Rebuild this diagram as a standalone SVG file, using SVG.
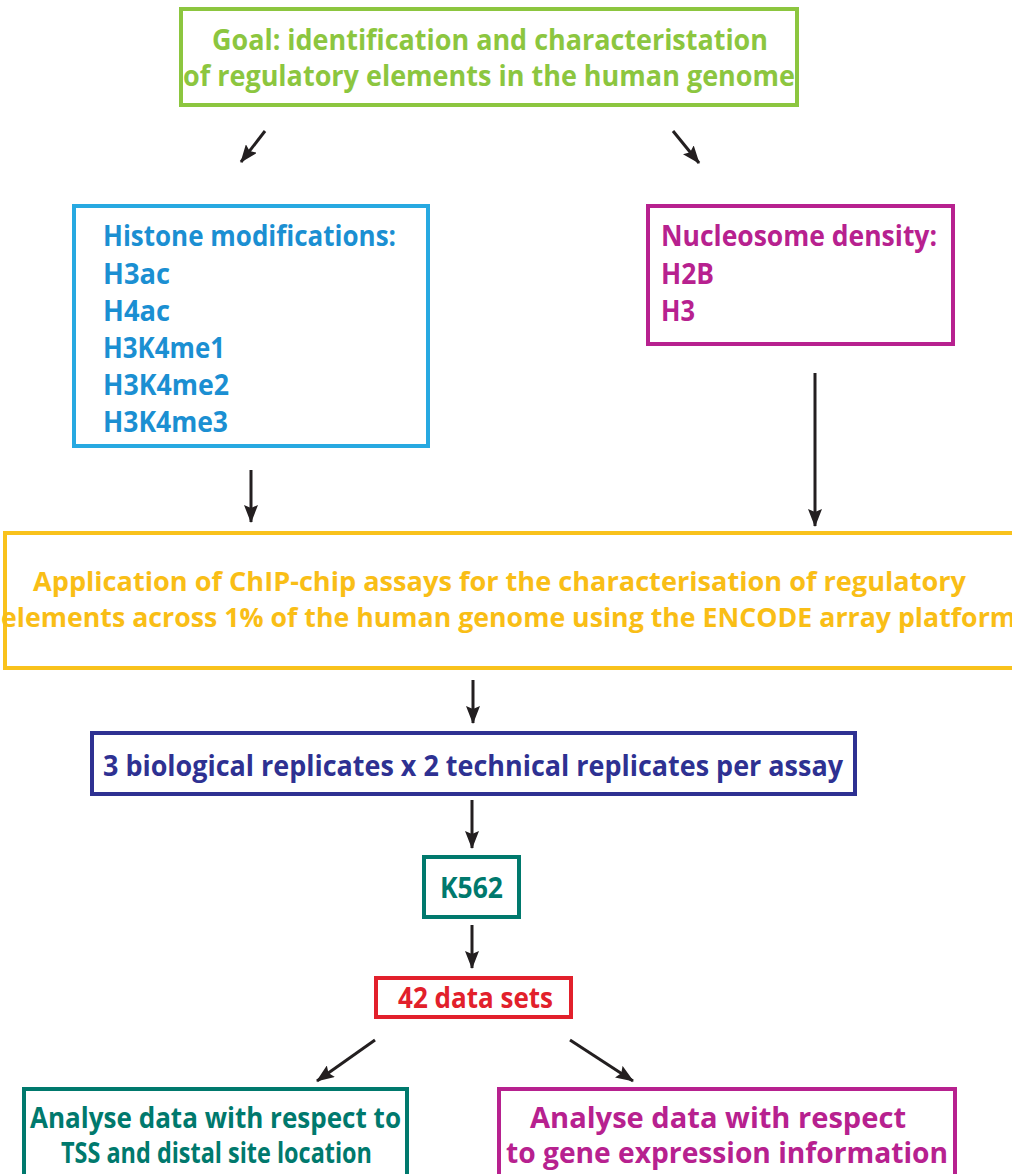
<svg xmlns="http://www.w3.org/2000/svg" width="1012" height="1174" viewBox="0 0 1012 1174">
<defs>
<marker id="ah" markerUnits="userSpaceOnUse" markerWidth="18" markerHeight="14" refX="17" refY="7" orient="auto">
<path d="M0,0 L18,7 L0,14 L3,7 Z" fill="#231f20"/>
</marker>
<style>
text{font-family:"Open Sans","Liberation Sans",sans-serif;font-weight:700;}
.box{fill:#fff;stroke-width:4;}
.con line{stroke:#231f20;stroke-width:3;marker-end:url(#ah);}
.green{fill:#8cc63f;} .blue{fill:#1b8fd2;} .mag{fill:#b7218f;} .yel{fill:#f9be16;} .navy{fill:#2e3192;} .teal{fill:#00796d;} .red{fill:#e2202b;}
</style>
</defs>
<rect width="1012" height="1174" fill="#fff"/>

<g id="goal">
<rect class="box" x="181" y="9" width="616" height="96" stroke="#8cc63f"/>
<text class="green" x="212" y="50" font-size="28" textLength="556" lengthAdjust="spacingAndGlyphs">Goal: identification and characteristation</text>
<text class="green" x="183" y="86" font-size="28" textLength="612" lengthAdjust="spacingAndGlyphs">of regulatory elements in the human genome</text>
</g>

<g id="histone">
<rect class="box" x="74" y="206" width="354" height="240" stroke="#27a9e1"/>
<text class="blue" x="103" y="246" font-size="28" textLength="293" lengthAdjust="spacingAndGlyphs">Histone modifications:</text>
<text class="blue" x="103" y="284" font-size="28" textLength="67" lengthAdjust="spacingAndGlyphs">H3ac</text>
<text class="blue" x="103" y="321" font-size="28" textLength="67" lengthAdjust="spacingAndGlyphs">H4ac</text>
<text class="blue" x="103" y="358" font-size="28" textLength="122" lengthAdjust="spacingAndGlyphs">H3K4me1</text>
<text class="blue" x="103" y="395" font-size="28" textLength="126" lengthAdjust="spacingAndGlyphs">H3K4me2</text>
<text class="blue" x="103" y="432" font-size="28" textLength="125" lengthAdjust="spacingAndGlyphs">H3K4me3</text>
</g>

<g id="nucleosome">
<rect class="box" x="648" y="206" width="305" height="138" stroke="#b7218f"/>
<text class="mag" x="661" y="246" font-size="28" textLength="276" lengthAdjust="spacingAndGlyphs">Nucleosome density:</text>
<text class="mag" x="661" y="284" font-size="28" textLength="53" lengthAdjust="spacingAndGlyphs">H2B</text>
<text class="mag" x="661" y="321" font-size="28" textLength="34" lengthAdjust="spacingAndGlyphs">H3</text>
</g>

<g id="chipchip">
<rect class="box" x="5" y="533" width="1020" height="135" stroke="#f9c21c"/>
<text class="yel" x="33" y="591" font-size="27" textLength="933" lengthAdjust="spacingAndGlyphs">Application of  ChIP-chip assays for the characterisation of regulatory</text>
<text class="yel" x="1" y="627" font-size="27" textLength="1015" lengthAdjust="spacingAndGlyphs">elements across 1% of the human genome using the ENCODE array platform</text>
</g>

<g id="replicates">
<rect class="box" x="92" y="733" width="763" height="61" stroke="#2e3192"/>
<text class="navy" x="103" y="776" font-size="28" textLength="740" lengthAdjust="spacingAndGlyphs">3 biological replicates x 2 technical replicates per assay</text>
</g>

<g id="k562">
<rect class="box" x="424" y="857" width="95" height="60" stroke="#00796d"/>
<text class="teal" x="440" y="898" font-size="28" textLength="63" lengthAdjust="spacingAndGlyphs">K562</text>
</g>

<g id="datasets">
<rect class="box" x="376" y="978" width="195" height="39" stroke="#e2202b"/>
<text class="red" x="398" y="1008" font-size="28" textLength="155" lengthAdjust="spacingAndGlyphs">42 data sets</text>
</g>

<g id="tss">
<rect class="box" x="24" y="1089" width="383" height="95" stroke="#00796d"/>
<text class="teal" x="30" y="1128" font-size="28" textLength="371" lengthAdjust="spacingAndGlyphs">Analyse data with respect to</text>
<text class="teal" x="61" y="1163" font-size="28" textLength="311" lengthAdjust="spacingAndGlyphs">TSS and distal site location</text>
</g>

<g id="expression">
<rect class="box" x="499" y="1089" width="456" height="95" stroke="#b7218f"/>
<text class="mag" x="530" y="1128" font-size="28" textLength="376" lengthAdjust="spacingAndGlyphs">Analyse data with respect</text>
<text class="mag" x="506" y="1163" font-size="28" textLength="442" lengthAdjust="spacingAndGlyphs">to gene expression information</text>
</g>

<g id="connectors" class="con">
<line x1="265" y1="131" x2="241" y2="162"/>
<line x1="673" y1="131" x2="699" y2="163"/>
<line x1="251" y1="470" x2="251" y2="522"/>
<line x1="815" y1="373" x2="815" y2="526"/>
<line x1="473" y1="680" x2="473" y2="723"/>
<line x1="472" y1="800" x2="472" y2="848"/>
<line x1="472" y1="925" x2="472" y2="968"/>
<line x1="375" y1="1040" x2="317" y2="1081"/>
<line x1="570" y1="1040" x2="633" y2="1081"/>
</g>
</svg>
